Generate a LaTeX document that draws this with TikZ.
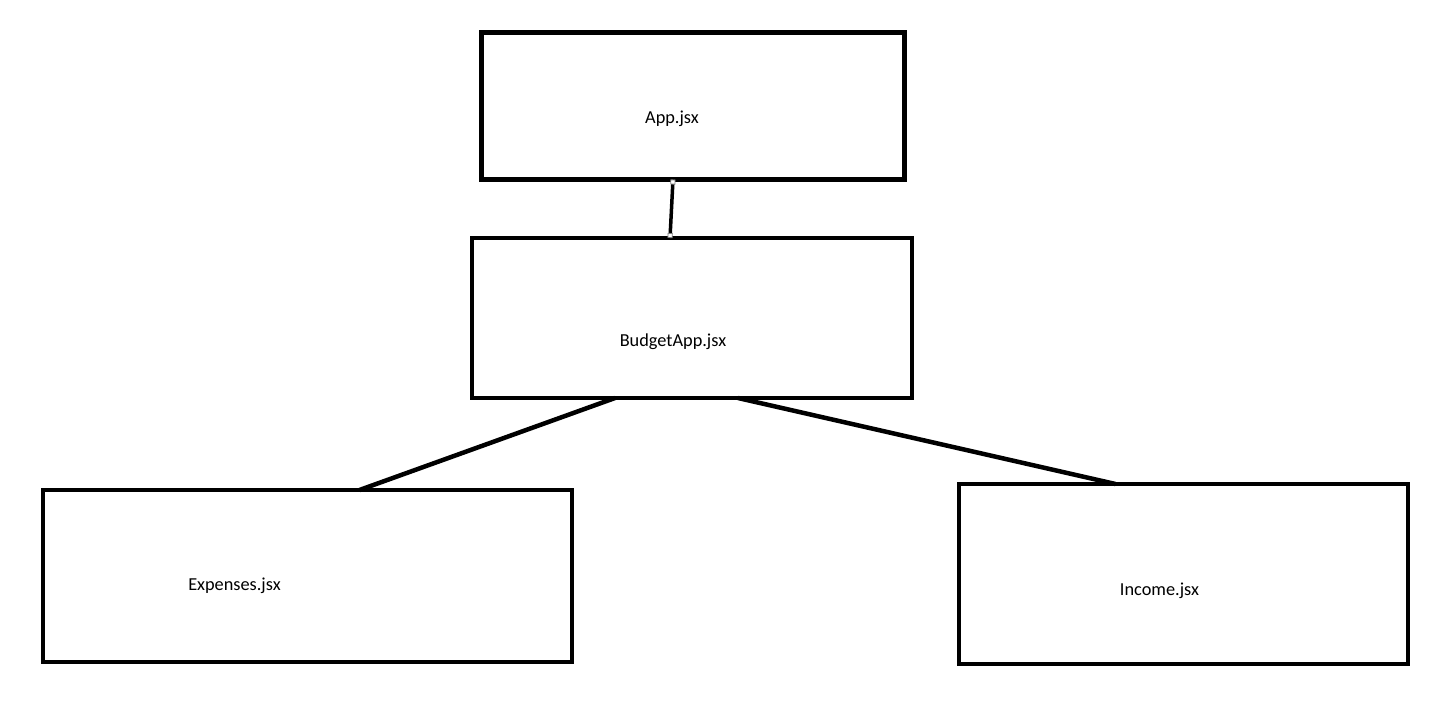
\documentclass[tikz,border=0pt]{standalone}
\usepackage{fontspec}
\setmainfont{Carlito}
\usetikzlibrary{arrows.meta}
\tikzset{edge/.style = {line width=4.5pt}}
\tikzset{handle/.style = {{Square[open,fill=white,color=gray,line width=0.8pt,length=5pt,width=5pt]}-{Square[open,fill=white,color=gray,line width=0.8pt,length=5pt,width=5pt]}}}

\begin{document}
\begin{tikzpicture}[x=1pt, y=-1pt, box node/.style={rectangle,draw,line width=4.5pt,outer sep=0pt,inner sep=0pt}, every label/.style={font=\fontsize{18.3}{22}\selectfont}]
    \useasboundingbox (0,0) rectangle (1456,707);
            \node[box node, minimum width=423pt, minimum height=147pt, label={[xshift=-21pt, yshift=-13pt]center:App.jsx}] (app) at (693,106) {};
            \node[box node, minimum width=440pt, minimum height=160pt, label={[xshift=-19pt, yshift=-24pt]center:BudgetApp.jsx}] (budget) at (692,318) {};
            \node[box node, minimum width=529pt, minimum height=172pt, label={[xshift=-73pt, yshift=-10pt]center:Expenses.jsx}] (expenses) at (307.5,576) {};
            \node[box node, minimum width=449pt, minimum height=180pt, label={[xshift=-24pt, yshift=-17pt]center:Income.jsx}] (income) at (1183.5,574) {};
            \draw[edge, line width=3.5pt, handle] ([xshift=-20pt]app.south) -- ([xshift=-22pt]budget.north);
            \draw[edge] ([xshift=-77pt]budget.south) -- ([xshift=52pt]expenses.north);
            \draw[edge] ([xshift=46pt]budget.south) -- ([xshift=-68pt]income.north);
        \end{tikzpicture}
\end{document}
